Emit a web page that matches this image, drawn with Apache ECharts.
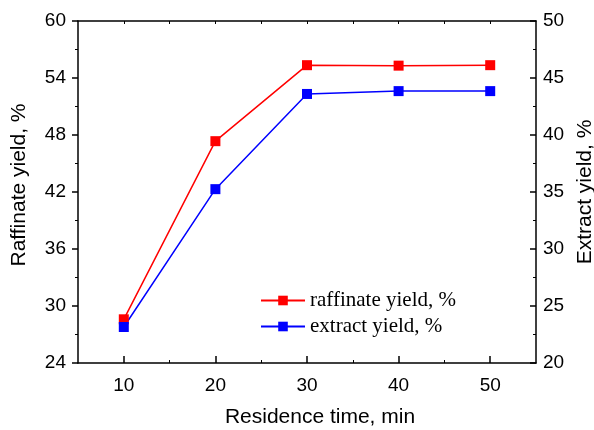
<!DOCTYPE html>
<html><head><meta charset="utf-8">
<script src="https://cdn.jsdelivr.net/npm/echarts@6/dist/echarts.min.js"></script>
<style>html,body{margin:0;padding:0;background:#fff}#c{width:594px;height:430px}</style>
</head><body><div id="c"></div>
<script>
const times = [10, 20, 30, 40, 50];
const raffinateYield = [28.6, 47.35, 55.35, 55.3, 55.35];
const extractYield = [23.16, 35.25, 43.6, 43.85, 43.85];
const xTicks = [10, 20, 30, 40, 50];
const xMinorTicks = [15, 25, 35, 45];
const xTopTicks = [10, 15, 20, 25, 30, 35, 40, 45, 50];

const chart = echarts.init(document.getElementById('c'));
const sans = 'Liberation Sans, Arial, sans-serif';
const axisLine = {show: true, lineStyle: {color: '#000', width: 1.5}};
chart.setOption({
  animation: false,
  backgroundColor: '#fff',
  grid: {left: 78, right: 58, top: 21, bottom: 67, containLabel: false, outerBoundsMode: 'none'},
  legend: {
    orient: 'vertical', left: 255, top: 285, itemWidth: 44, itemHeight: 12, itemGap: 5,
    textStyle: {fontFamily: 'Liberation Serif, Times New Roman, serif', fontSize: 21, color: '#000'},
    data: ['raffinate yield, %', 'extract yield, %']
  },
  xAxis: [
    {type: 'value', min: 5, max: 55, position: 'bottom',
     name: 'Residence time, min', nameLocation: 'middle', nameGap: 44,
     nameTextStyle: {fontFamily: sans, fontSize: 21, color: '#000', padding: [0, 0, 0, 26]},
     axisLine: axisLine,
     axisTick: {show: true, inside: true, length: 7, customValues: xTicks, lineStyle: {color: '#000', width: 1.5}},
     axisLabel: {customValues: xTicks, fontFamily: sans, fontSize: 19, color: '#000', margin: 13},
     splitLine: {show: false}},
    {type: 'value', min: 5, max: 55, position: 'bottom',
     axisLine: {show: false},
     axisTick: {show: true, inside: true, length: 3, customValues: xMinorTicks, lineStyle: {color: '#000', width: 1}},
     axisLabel: {show: false}, splitLine: {show: false}},
    {type: 'value', min: 5, max: 55, position: 'top',
     axisLine: axisLine,
     axisTick: {show: true, inside: true, length: 3, customValues: xTopTicks, lineStyle: {color: '#000', width: 1}},
     axisLabel: {show: false}, splitLine: {show: false}}
  ],
  yAxis: [
    {type: 'value', min: 24, max: 60, interval: 6, position: 'left',
     name: 'Raffinate yield, %', nameLocation: 'middle', nameGap: 48, nameRotate: 90,
     nameTextStyle: {fontFamily: sans, fontSize: 21, color: '#000', padding: [0, 0, 0, 14]},
     axisLine: axisLine,
     axisTick: {show: true, inside: false, length: 6, lineStyle: {color: '#000', width: 1.5}},
     minorTick: {show: true, splitNumber: 2, length: 3, lineStyle: {color: '#000', width: 1}},
     axisLabel: {fontFamily: sans, fontSize: 19, color: '#000', margin: 12},
     splitLine: {show: false}},
    {type: 'value', min: 20, max: 50, interval: 5, position: 'right',
     name: 'Extract yield, %', nameLocation: 'middle', nameGap: 36, nameRotate: 90,
     nameTextStyle: {fontFamily: sans, fontSize: 21, color: '#000'},
     axisLine: axisLine,
     axisTick: {show: true, inside: true, length: 6, lineStyle: {color: '#000', width: 1.5}},
     minorTick: {show: true, splitNumber: 2, length: 3, lineStyle: {color: '#000', width: 1}},
     axisLabel: {fontFamily: sans, fontSize: 19, color: '#000', margin: 7},
     splitLine: {show: false}}
  ],
  series: [
    {name: 'raffinate yield, %', type: 'line', xAxisIndex: 0, yAxisIndex: 0,
     data: times.map((t, i) => [t, raffinateYield[i]]),
     symbol: 'rect', symbolSize: 10, color: '#ff0000',
     lineStyle: {color: '#ff0000', width: 1.5}, itemStyle: {color: '#ff0000'}},
    {name: 'extract yield, %', type: 'line', xAxisIndex: 0, yAxisIndex: 1,
     data: times.map((t, i) => [t, extractYield[i]]),
     symbol: 'rect', symbolSize: 10, color: '#0000ff',
     lineStyle: {color: '#0000ff', width: 1.5}, itemStyle: {color: '#0000ff'}}
  ]
});
</script></body></html>
